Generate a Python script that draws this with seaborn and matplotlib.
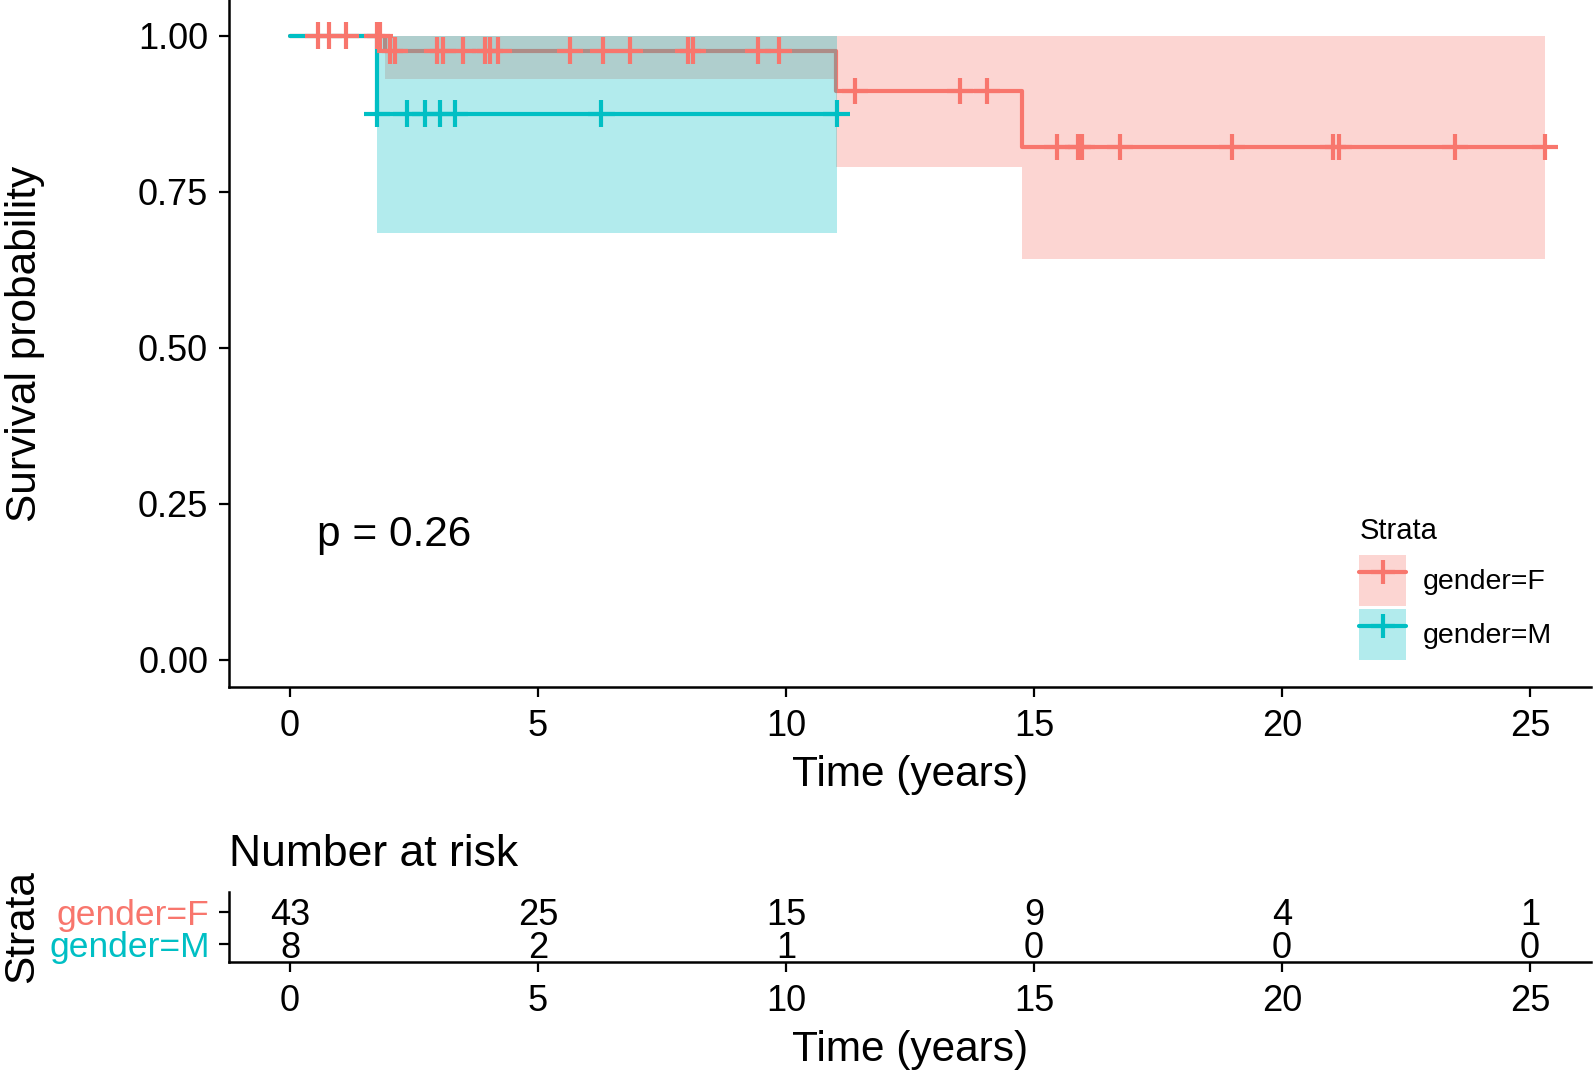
import numpy as np
import pandas as pd
import seaborn as sns
import matplotlib.pyplot as plt
from matplotlib.patches import Patch
from matplotlib.lines import Line2D

# Kaplan-Meier steps
f_time = [0, 1.92, 11.0, 14.75, 25.3]
f_surv = [1.0, 0.976, 0.911, 0.822, 0.822]
f_lower = [1.0, 0.930, 0.790, 0.642, 0.642]
f_upper = [1.0, 1.0, 1.0, 1.0, 1.0]
f_censor = [0.57, 0.79, 1.12, 1.75, 1.81, 2.02, 2.12, 2.96, 3.09, 3.49, 3.93,
            4.03, 4.20, 5.65, 6.32, 6.85, 8.03, 8.13, 9.44, 9.85, 11.39, 13.51,
            14.05, 15.46, 15.89, 15.96, 16.73, 18.99, 21.03, 21.14, 23.49, 25.3]

m_time = [0, 1.75, 11.02]
m_surv = [1.0, 0.875, 0.875]
m_lower = [1.0, 0.683, 0.683]
m_upper = [1.0, 1.0, 1.0]
m_censor = [1.75, 2.35, 2.72, 3.02, 3.33, 6.28, 11.02]

risk_times = [0, 5, 10, 15, 20, 25]
risk_f = [43, 25, 15, 9, 4, 1]
risk_m = [8, 2, 1, 0, 0, 0]

strata = ["gender=F", "gender=M"]
pal = {"gender=F": "#F8766D", "gender=M": "#00BFC4"}

sns.set_theme(style="white")
plt.rcParams["font.family"] = ["Liberation Sans", "DejaVu Sans"]
plt.rcParams["text.color"] = "black"
plt.rcParams["axes.labelcolor"] = "black"


def surv_at(times, surv, t):
    return surv[np.searchsorted(times, t, side="right") - 1]


km_f = pd.DataFrame({"time": f_time, "surv": f_surv})
km_m = pd.DataFrame({"time": m_time, "surv": m_surv})
cens = pd.concat(
    [
        pd.DataFrame({"time": f_censor,
                      "surv": [surv_at(f_time, f_surv, t) for t in f_censor],
                      "strata": strata[0]}),
        pd.DataFrame({"time": m_censor,
                      "surv": [surv_at(m_time, m_surv, t) for t in m_censor],
                      "strata": strata[1]}),
    ]
)

W, H = 1594, 1072
fig = plt.figure(figsize=(W / 100, H / 100), dpi=100)
ax = fig.add_axes([229 / W, (H - 687) / H, (1591 - 229) / W, 687 / H])
rax = fig.add_axes([229 / W, (H - 962) / H, (1591 - 229) / W, 70 / H])

# survival curves: F first, M on top, ribbons over the lines
sns.lineplot(data=km_f, x="time", y="surv", color=pal[strata[0]],
             drawstyle="steps-post", estimator=None, sort=False,
             linewidth=3, ax=ax, zorder=2)
sns.lineplot(data=km_m, x="time", y="surv", color=pal[strata[1]],
             drawstyle="steps-post", estimator=None, sort=False,
             linewidth=3, ax=ax, zorder=2.1)
ax.fill_between(f_time, f_lower, f_upper, step="post", color=pal[strata[0]],
                alpha=0.3, linewidth=0, zorder=3)
ax.fill_between(m_time, m_lower, m_upper, step="post", color=pal[strata[1]],
                alpha=0.3, linewidth=0, zorder=3)
sns.scatterplot(data=cens, x="time", y="surv", hue="strata", palette=pal,
                marker="+", s=360, linewidth=3, legend=False, ax=ax, zorder=4)

ax.set_xlim(-1.23, 26.23)
ax.set_ylim(-0.0436, 1.057)
ax.set_xticks([0, 5, 10, 15, 20, 25])
ax.set_yticks([0, 0.25, 0.5, 0.75, 1.0])
ax.set_yticklabels(["0.00", "0.25", "0.50", "0.75", "1.00"])
ax.set_xlabel("Time (years)", fontsize=30.5, labelpad=8)
ax.set_ylabel("Survival probability", fontsize=30.5)
ax.yaxis.set_label_coords(-0.135, 0.5)
ax.tick_params(axis="both", length=7, width=1.6, color="black",
               labelsize=26, labelcolor="black", direction="out",
               bottom=True, left=True)
ax.tick_params(axis="y", pad=8)
ax.tick_params(axis="x", pad=9)
sns.despine(ax=ax)
for s in ["left", "bottom"]:
    ax.spines[s].set_color("black")
    ax.spines[s].set_linewidth(1.8)

ax.text(0.54, 0.2, "p = 0.26", fontsize=30.5, ha="left", va="center")

handles = [
    (Patch(facecolor=pal[k], alpha=0.3, linewidth=0),
     Line2D([], [], color=pal[k], linewidth=3, marker="+", markersize=17,
            markeredgewidth=3))
    for k in strata
]
leg = ax.legend(handles, strata, title="Strata", frameon=False,
                loc="upper left", bbox_to_anchor=(1345 / W, (H - 503) / H),
                bbox_transform=fig.transFigure, fontsize=20.5,
                title_fontsize=21, handlelength=1.64, handleheight=2.38,
                labelspacing=0.1, handletextpad=0.6, borderpad=0,
                alignment="left", numpoints=1)
leg._legend_box.sep = 7  # extra room under the legend title

# risk table
for t, nf, nm in zip(risk_times, risk_f, risk_m):
    rax.text(t, 2, str(nf), fontsize=26, ha="center", va="center_baseline")
    rax.text(t, 1, str(nm), fontsize=26, ha="center", va="center_baseline")
rax.set_xlim(-1.23, 26.23)
rax.set_ylim(0.44, 2.62)
rax.set_xticks(risk_times)
rax.set_yticks([2, 1])
rax.set_yticklabels(strata)
for lab, k in zip(rax.get_yticklabels(), strata):
    lab.set_color(pal[k])
rax.set_title("Number at risk", loc="left", fontsize=32, pad=19)
rax.set_xlabel("Time (years)", fontsize=30.5, labelpad=8)
rax.set_ylabel("Strata", fontsize=30.5)
rax.yaxis.set_label_coords(-0.137, 0.5)
rax.tick_params(axis="both", length=7, width=1.6, color="black",
                direction="out", bottom=True, left=True)
rax.tick_params(axis="x", labelsize=26, labelcolor="black", pad=9)
rax.tick_params(axis="y", labelsize=25.5, pad=7)
sns.despine(ax=rax)
for s in ["left", "bottom"]:
    rax.spines[s].set_color("black")
    rax.spines[s].set_linewidth(1.8)

fig.savefig("out.png", dpi=100)
